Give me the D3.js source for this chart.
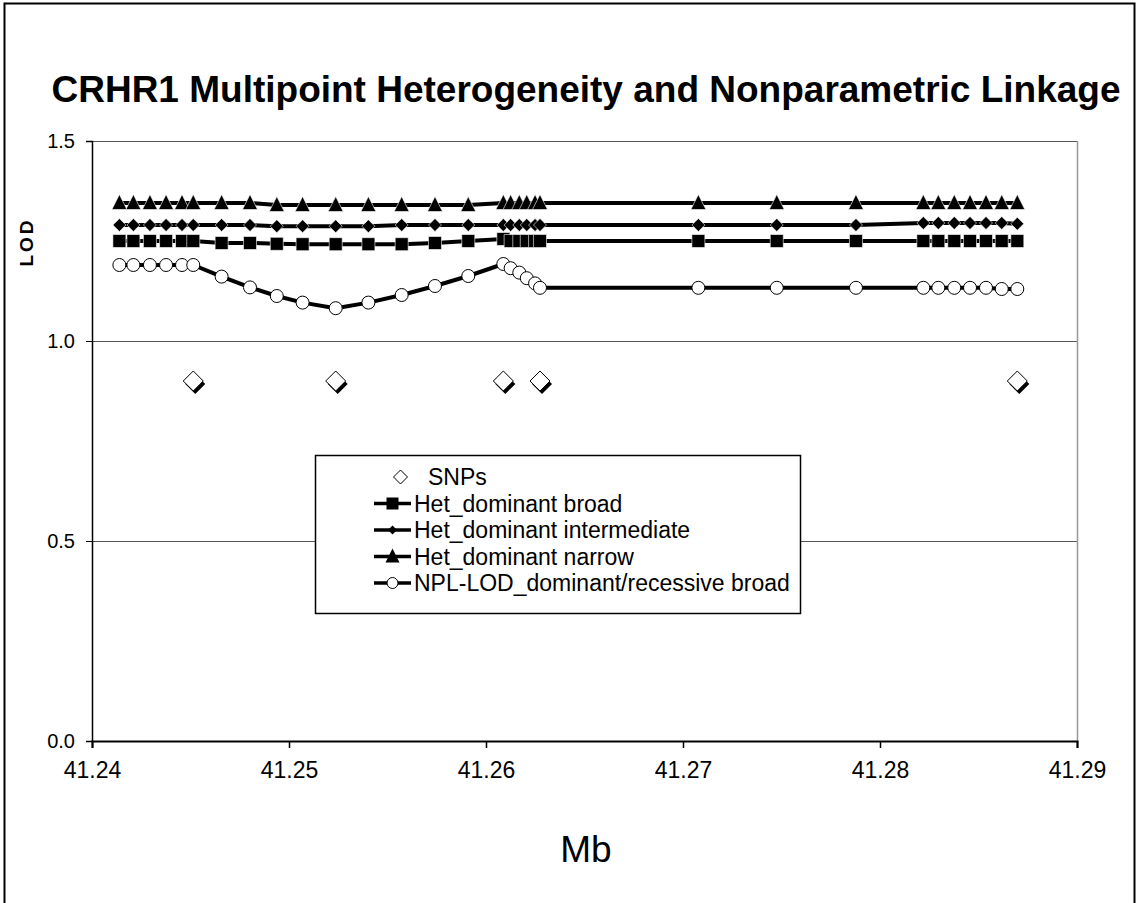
<!DOCTYPE html>
<html>
<head>
<meta charset="utf-8">
<script src="https://cdn.jsdelivr.net/npm/d3@7"></script>
<style>
  body { margin: 0; background: #fff; }
  svg text { font-family: "Liberation Sans", Arial, sans-serif; }
</style>
</head>
<body>
<svg class="chart"></svg>
<script>
// positions along the chromosome (Mb) for the linkage scan
var mb = [41.24139, 41.2421, 41.24294, 41.24376, 41.24457, 41.24514, 41.24658, 41.24802,
          41.24938, 41.25069, 41.25237, 41.25403, 41.25572, 41.25741, 41.2591, 41.26088,
          41.26125, 41.26169, 41.26207, 41.26249, 41.26274, 41.27078, 41.27476, 41.27878,
          41.2822, 41.28296, 41.28377, 41.28457, 41.28538, 41.28618, 41.28697];

var hetBroad = [1.25, 1.25, 1.25, 1.25, 1.25, 1.25, 1.245, 1.245, 1.243, 1.242, 1.242, 1.242,
                1.242, 1.245, 1.25, 1.255, 1.25, 1.25, 1.25, 1.25, 1.25, 1.25, 1.25, 1.25,
                1.25, 1.25, 1.25, 1.25, 1.25, 1.25, 1.25];
var hetInter = [1.29, 1.29, 1.29, 1.29, 1.29, 1.29, 1.29, 1.29, 1.287, 1.287, 1.287, 1.287,
                1.29, 1.29, 1.29, 1.29, 1.29, 1.29, 1.29, 1.29, 1.29, 1.29, 1.29, 1.29,
                1.295, 1.295, 1.295, 1.295, 1.295, 1.295, 1.293];
var hetNarrow = [1.345, 1.345, 1.345, 1.345, 1.345, 1.345, 1.345, 1.345, 1.34, 1.34, 1.34, 1.34,
                 1.34, 1.34, 1.34, 1.345, 1.345, 1.345, 1.345, 1.345, 1.345, 1.345, 1.345, 1.345,
                 1.345, 1.345, 1.345, 1.345, 1.345, 1.345, 1.345];
var nplLod = [1.19, 1.19, 1.19, 1.19, 1.19, 1.19, 1.161, 1.134, 1.1125, 1.096, 1.082, 1.096,
              1.115, 1.1375, 1.1625, 1.1925, 1.182, 1.171, 1.157, 1.144, 1.133, 1.133, 1.133,
              1.133, 1.133, 1.133, 1.133, 1.133, 1.133, 1.13, 1.13];

// SNP locations
var snpMb = [41.24514, 41.25237, 41.26088, 41.26274, 41.28697];
var snpLod = [0.9, 0.9, 0.9, 0.9, 0.9];

var xTicks = [41.24, 41.25, 41.26, 41.27, 41.28, 41.29];
var yTicks = [0.0, 0.5, 1.0, 1.5];

var seriesNames = ["Het_dominant broad", "Het_dominant intermediate", "Het_dominant narrow",
                   "NPL-LOD_dominant/recessive broad"];

// marker shapes (Excel style: square diamond, not the tall d3 one)
function diamond(r) { return "M0," + (-r) + "L" + r + ",0L0," + r + "L" + (-r) + ",0Z"; }
function square(r) { return "M" + (-r) + "," + (-r) + "H" + r + "V" + r + "H" + (-r) + "Z"; }
function triangle(r) { return "M0," + (-r - 1) + "L" + r + "," + (r - 1) + "L" + (-r) + "," + (r - 1) + "Z"; }

function show() {
    var W = 1138, H = 903;
    var plot = {left: 92, right: 1077, top: 141, bottom: 741};

    var svg = d3.select(".chart").attr("width", W).attr("height", H);

    svg.append("rect").attr("width", W).attr("height", H).attr("fill", "#fff");
    // outer frame (bottom edge is cut off in the original)
    svg.append("rect")
        .attr("x", 4.5).attr("y", 3.5).attr("width", W - 8).attr("height", H + 10)
        .attr("fill", "none").attr("stroke", "#000").attr("stroke-width", 2);

    svg.append("text")
        .attr("x", 586).attr("y", 102)
        .attr("text-anchor", "middle")
        .attr("font-size", 37).attr("font-weight", "bold")
        .text("CRHR1 Multipoint Heterogeneity and Nonparametric Linkage");

    var x = d3.scaleLinear().domain([41.24, 41.29]).range([plot.left, plot.right]);
    var y = d3.scaleLinear().domain([0, 1.5]).range([plot.bottom, plot.top]);

    // gridlines
    svg.append("g").selectAll("line")
        .data(yTicks.filter(function(d) { return d > 0; }))
        .enter().append("line")
        .attr("x1", plot.left).attr("x2", plot.right)
        .attr("y1", function(d) { return y(d) + 0.5; })
        .attr("y2", function(d) { return y(d) + 0.5; })
        .attr("stroke", "#555").attr("stroke-width", 1);

    // right edge of plot
    svg.append("line")
        .attr("x1", plot.right + 0.5).attr("x2", plot.right + 0.5)
        .attr("y1", plot.top).attr("y2", plot.bottom)
        .attr("stroke", "#999").attr("stroke-width", 1.5);

    // axes
    var yAxis = d3.axisLeft(y).tickValues(yTicks).tickFormat(d3.format(".1f")).tickSize(6).tickPadding(11);
    var gy = svg.append("g").attr("transform", "translate(" + plot.left + ",0)").call(yAxis);
    gy.select(".domain").attr("stroke", "#000").attr("stroke-width", 1.5);
    gy.selectAll(".tick line").attr("stroke", "#000");
    gy.selectAll(".tick text").attr("font-size", 20).attr("fill", "#000")
        .attr("font-family", "Liberation Sans, Arial, sans-serif");

    var xAxis = d3.axisBottom(x).tickValues(xTicks).tickFormat(d3.format(".2f")).tickSize(7).tickPadding(14);
    var gx = svg.append("g").attr("transform", "translate(0," + plot.bottom + ")").call(xAxis);
    gx.select(".domain").attr("stroke", "#000").attr("stroke-width", 2);
    gx.selectAll(".tick line").attr("stroke", "#000").attr("stroke-width", 1.5);
    gx.selectAll(".tick text").attr("font-size", 23).attr("fill", "#000")
        .attr("font-family", "Liberation Sans, Arial, sans-serif");

    svg.append("text")
        .attr("transform", "translate(33,242) rotate(-90)")
        .attr("text-anchor", "middle")
        .attr("font-size", 19).attr("font-weight", "bold")
        .attr("letter-spacing", 3)
        .text("LOD");

    svg.append("text")
        .attr("x", 586).attr("y", 862)
        .attr("text-anchor", "middle")
        .attr("font-size", 37)
        .text("Mb");

    var line = d3.line()
        .x(function(d) { return x(d[0]); })
        .y(function(d) { return y(d[1]); });

    var series = [
        {values: hetBroad, marker: square(6.5)},
        {values: hetInter, marker: diamond(6.5)},
        {values: hetNarrow, marker: triangle(7.5)},
        {values: nplLod, marker: null}
    ];

    series.forEach(function(s) {
        var pts = mb.map(function(m, i) { return [m, s.values[i]]; });
        var g = svg.append("g");
        g.append("path")
            .attr("d", line(pts))
            .attr("fill", "none")
            .attr("stroke", "#000")
            .attr("stroke-width", 4)
            .attr("stroke-linejoin", "round");
        if (s.marker) {
            g.selectAll("path.m").data(pts).enter().append("path")
                .attr("class", "m")
                .attr("d", s.marker)
                .attr("transform", function(d) { return "translate(" + x(d[0]) + "," + y(d[1]) + ")"; })
                .attr("fill", "#000")
                .attr("stroke", "#fff")
                .attr("stroke-width", 0.6);
        } else {
            g.selectAll("circle").data(pts).enter().append("circle")
                .attr("cx", function(d) { return x(d[0]); })
                .attr("cy", function(d) { return y(d[1]); })
                .attr("r", 6.5)
                .attr("fill", "#fff")
                .attr("stroke", "#000")
                .attr("stroke-width", 1);
        }
    });

    // SNP markers: white diamond with black drop shadow
    var snp = svg.append("g").selectAll("g")
        .data(snpMb.map(function(m, i) { return [m, snpLod[i]]; }))
        .enter().append("g")
        .attr("transform", function(d) { return "translate(" + x(d[0]) + "," + y(d[1]) + ")"; });
    snp.append("path").attr("d", diamond(10)).attr("transform", "translate(2,3)").attr("fill", "#000");
    snp.append("path").attr("d", diamond(10)).attr("fill", "#fff").attr("stroke", "#000").attr("stroke-width", 1);

    // legend
    var lg = svg.append("g").attr("transform", "translate(315,455)");
    lg.append("rect").attr("x", 0.5).attr("y", 0.5).attr("width", 485).attr("height", 158)
        .attr("fill", "#fff").attr("stroke", "#000").attr("stroke-width", 1.5);

    var rowY = function(i) { return 22 + i * 26.5; };
    var sampleX0 = 59, sampleX1 = 96, textX = 99;
    var cx = (sampleX0 + sampleX1) / 2;

    var snpRow = lg.append("g").attr("transform", "translate(0," + rowY(0) + ")");
    snpRow.append("path").attr("d", diamond(7))
        .attr("transform", "translate(" + (cx + 8) + ",0)")
        .attr("fill", "#fff").attr("stroke", "#000").attr("stroke-width", 1);
    snpRow.append("text").attr("x", textX + 14).attr("dy", "0.36em").attr("font-size", 23).text("SNPs");

    var legendMarkers = [square(6), diamond(4.5), triangle(7), null];
    seriesNames.forEach(function(name, i) {
        var r = lg.append("g").attr("transform", "translate(0," + rowY(i + 1) + ")");
        r.append("line").attr("x1", sampleX0).attr("x2", sampleX1)
            .attr("stroke", "#000").attr("stroke-width", 3.5);
        if (legendMarkers[i]) {
            r.append("path").attr("d", legendMarkers[i])
                .attr("transform", "translate(" + cx + ",0)")
                .attr("fill", "#000");
        } else {
            r.append("circle").attr("cx", cx).attr("r", 5.5)
                .attr("fill", "#fff").attr("stroke", "#000").attr("stroke-width", 1);
        }
        r.append("text").attr("x", textX).attr("dy", "0.36em").attr("font-size", 23).text(name);
    });
}

show();
</script>
</body>
</html>
